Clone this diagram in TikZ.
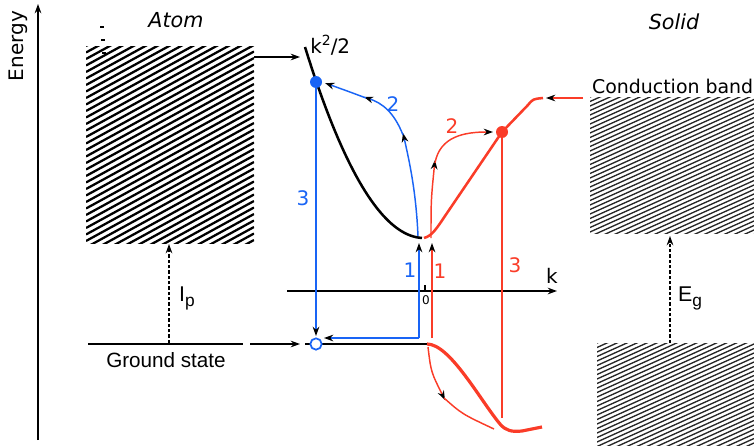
\documentclass[tikz,border=0pt]{standalone}
\usepackage{fontspec}
\setmainfont{DejaVu Sans}
\newfontfamily\arialfont{Liberation Sans}
\usetikzlibrary{arrows.meta}
\definecolor{elblue}{RGB}{25,100,245}
\definecolor{elred}{RGB}{250,60,40}

\begin{document}
\begin{tikzpicture}
        [x=0.75pt,y=-0.75pt,
        blacktip/.style={-{Stealth[length=7pt,width=5pt,color=black]}},
        band/.style={line width=1.9pt},
        bluepath/.style={elblue,line width=1.1pt},
        redpath/.style={elred,line width=1.1pt},
        atomhatch/.style={line width=1.7pt},
        solidhatch/.style={line width=1pt,black!85},
        lbl/.style={font=\fontsize{15}{17}\selectfont,inner sep=0pt},
        dot/.style={circle,inner sep=0pt,minimum size=9pt}]
        \useasboundingbox (0,0) rectangle (754,446);
        % energy axis
        \coordinate (ebot) at (38,440);
        \coordinate (etop) at (38,4);
        \draw[blacktip,line width=1.1pt] (ebot) -- (etop);
        \node[lbl,rotate=90] (energy) at (18,46) {Energy};
        % atom side
        \node[lbl,font=\fontsize{15.5}{17}\selectfont\itshape] (atom) at (176,20) {Atom};
        \fill (100,26) rectangle (104,28);
        \fill (101,39) rectangle (105,41);
        \fill (102,52) rectangle (106,54);
        \begin{scope}
            \clip (86,46) rectangle (254,243);
            \foreach \i in {0,...,46}
                \draw[atomhatch] (86,{46+6.5*\i}) -- ++(168,-92);
        \end{scope}
        \coordinate (gsl) at (88,344);
        \coordinate (gsr) at (243,344);
        \draw[line width=1.1pt] (gsl) -- (gsr);
        \node[lbl,font=\fontsize{15.5}{17}\selectfont\arialfont] (gstext) at (166,360) {Ground state};
        \coordinate (ipb) at (169,343);
        \coordinate (ipt) at (169,244);
        \draw[blacktip,dashed,line width=1pt,dash pattern=on 2.5pt off 1.5pt] (ipb) -- (ipt);
        \node[lbl,font=\fontsize{16}{18}\selectfont\arialfont] (ip) at (187,298) {I\raisebox{-0.45ex}{\fontsize{13}{14}\selectfont p}};
        \coordinate (a1) at (254,57);
        \coordinate (a2) at (300,57);
        \draw[blacktip,line width=1pt] (a1) -- (a2);
        \coordinate (g1) at (250,344);
        \coordinate (g2) at (300,344);
        \draw[blacktip,line width=1pt] (g1) -- (g2);
        % k axis
        \coordinate (kl) at (287,291);
        \coordinate (kr) at (557,291);
        \draw[blacktip,line width=1.1pt] (kl) -- (kr);
        \node[lbl] (k) at (552,276) {k};
        \draw[line width=1pt] (425,285) -- (425,291);
        \node[lbl,font=\fontsize{9}{10}\selectfont] (zero) at (426,300) {0};
        % key points
        \coordinate (bd) at (316,82);
        \coordinate (rd) at (502,132);
        \coordinate (vmin) at (424,238);
        \coordinate (vtop) at (427,344);
        \coordinate (gl) at (305,344);
        \coordinate (cb) at (543,98);
        % bands
        \draw[band] plot[domain=305:422,samples=40] (\x,{238-191*((\x-424)/119)^2});
        \node[lbl,anchor=west] (k2) at (310,45) {k\raisebox{0.7ex}{\fontsize{10.5}{11}\selectfont 2}/2};
        \draw[band,elred] (vmin) .. controls (432,236) and (437,228) .. (445,216)
            -- (rd) -- (528,105) .. controls (533,99) .. (cb);
        \draw[line width=2.2pt] (gl) -- (vtop);
        \draw[band,elred,line width=2.4pt] (vtop) .. controls (450,344) and (480,400) .. (500,424)
            .. controls (506,431) and (512,432) .. (522,431) -- (542,427);
        \coordinate (cbr) at (583,98);
        \coordinate (cbl) at (546,98);
        \draw[redpath,blacktip] (cbr) -- (cbl);
        % blue trajectory
        \coordinate (bc) at (419,338);
        \draw[bluepath,blacktip] (bc) -- (419,243);
        \draw[bluepath,blacktip] (bc) -- (324,338);
        \node[lbl,elblue] (b1) at (410,270) {1};
        \draw[bluepath,blacktip] (418,236) .. controls (416,190) and (409,160) .. (403,133);
        \draw[bluepath,blacktip] (403,135) .. controls (394,112) and (382,103) .. (364,97);
        \draw[bluepath,blacktip] (366,98) .. controls (350,92) .. (325,83);
        \node[lbl,elblue] (b2) at (393,104) {2};
        \draw[bluepath,blacktip] (316,88) -- (316,336);
        \node[lbl,elblue] (b3) at (303,198) {3};
        \node[dot,fill=elblue] (bdot) at (bd) {};
        \node[dot,draw=elblue,fill=white,line width=1.3pt,minimum size=8.5pt] (gdot) at (316,344) {};
        % red trajectory
        \draw[redpath,blacktip] (432,338) -- (432,243);
        \node[lbl,elred] (r1) at (440,271) {1};
        \draw[redpath,blacktip] (431,238) .. controls (431,200) .. (435,160);
        \draw[redpath,blacktip] (435,163) .. controls (440,136) and (465,132) .. (493,132);
        \node[lbl,elred] (r2) at (452,126) {2};
        \draw[redpath] (rd) -- (502,418);
        \node[lbl,elred] (r3) at (515,265) {3};
        \draw[redpath,blacktip] (428,347) .. controls (431,372) .. (445,400);
        \draw[redpath] (444,398) .. controls (462,414) .. (494,429);
        \node[dot,fill=elred] (rdot) at (rd) {};
        % solid side
        \node[lbl,font=\fontsize{15.5}{17}\selectfont\itshape] (solid) at (674,22) {Solid};
        \node[lbl,anchor=east,font=\fontsize{14.2}{16}\selectfont] (cbtext) at (753.5,86) {Conduction band};
        \begin{scope}
            \clip (590,97) rectangle (754,233);
            \foreach \i in {0,...,48}
                \draw[solidhatch] (590,{97+4.5*\i}) -- ++(164,-74);
        \end{scope}
        \begin{scope}
            \clip (597,343) rectangle (754,446);
            \foreach \i in {0,...,40}
                \draw[solidhatch] (597,{343+4.5*\i}) -- ++(157,-71);
        \end{scope}
        \coordinate (egb) at (670,343);
        \coordinate (egt) at (670,236);
        \draw[blacktip,dashed,line width=1pt,dash pattern=on 2.5pt off 1.5pt] (egb) -- (egt);
        \node[lbl,font=\fontsize{16}{18}\selectfont\arialfont] (eg) at (690,298) {E\raisebox{-0.45ex}{\fontsize{13}{14}\selectfont g}};
\end{tikzpicture}
\end{document}
